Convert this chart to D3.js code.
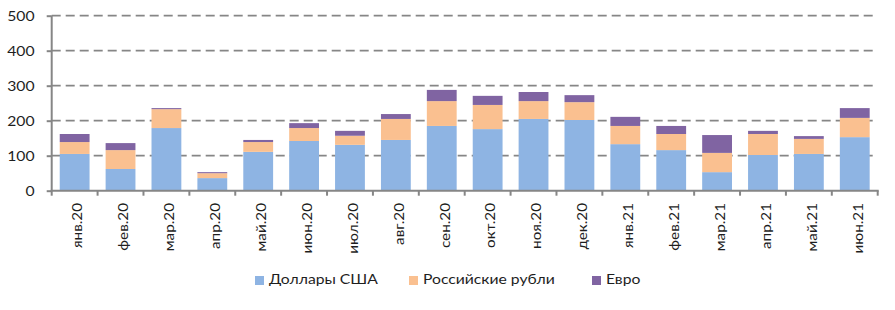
<!DOCTYPE html>
<html><head><meta charset="utf-8">
<script src="https://cdn.jsdelivr.net/npm/d3@7"></script>
<style>
body{margin:0;background:#fff;}
text{font-family:Lato,"Open Sans",sans-serif;fill:#1e1e1e;}
</style></head>
<body><svg id="chart" width="895" height="310"></svg>
<script>
const categories = ["янв.20","фев.20","мар.20","апр.20","май.20","июн.20","июл.20","авг.20","сен.20","окт.20","ноя.20","дек.20","янв.21","фев.21","мар.21","апр.21","май.21","июн.21"];
const usd = [105,62,179,36,111,142,131,145,185,176,205,202,133,116,53,102,105,153];
const rub = [34,54,54,14,28,37,26,60,71,69,51,51,52,46,55,60,43,55];
const eur = [23,20,3,3,6,14,14,14,32,26,26,20,26,23,51,9,8,28];
const seriesNames = ["Доллары США","Российские рубли","Евро"];
const colors = ["#8EB4E3","#FAC090","#8064A2"];
const yTicks = [0,100,200,300,400,500];

const svg = d3.select("#chart");
const pLeft = 51.7, pRight = 877.7, pTop = 15.7, pBottom = 190.7;
const FS = 12.5;   // horizontal text
const FSX = 13.5;  // rotated category labels

// measure text to reproduce the widened lettering of the original
const probe = svg.append("text");
function textW(s, fs){ probe.attr("font-size",fs+"px").text(s); return probe.node().getComputedTextLength(); }
const kx = 109 / textW(seriesNames[0], FS);      // horizontal widening
const kLen = 45 / textW(categories[0], FSX);     // along-baseline scale for rotated labels
probe.remove();

const data = categories.map((c,i)=>({cat:c, usd:usd[i], rub:rub[i], eur:eur[i]}));
const stack = d3.stack().keys(["usd","rub","eur"])(data);

const x = d3.scaleBand().domain(categories).range([pLeft,pRight]).paddingInner(0.35).paddingOuter(0.175);
const y = d3.scaleLinear().domain([0,500]).range([pBottom,pTop]);

// gridlines
svg.append("g").selectAll("line").data(yTicks.filter(t=>t>0)).join("line")
  .attr("x1",pLeft).attr("x2",pRight).attr("y1",d=>y(d)).attr("y2",d=>y(d))
  .attr("stroke","#868686").attr("stroke-width",1.75).attr("stroke-dasharray","9,5");

// bars
svg.append("g").selectAll("g").data(stack).join("g").attr("fill",(d,i)=>colors[i])
  .selectAll("rect").data(d=>d).join("rect")
  .attr("x",d=>x(d.data.cat)).attr("width",x.bandwidth())
  .attr("y",d=>y(d[1])).attr("height",d=>y(d[0])-y(d[1]));

// y axis
const ya = svg.append("g").attr("transform",`translate(${pLeft},0)`)
  .call(d3.axisLeft(y).tickValues(yTicks).tickSize(5).tickFormat(d3.format("d")));
ya.select(".domain").attr("stroke","#868686").attr("stroke-width",2).attr("d",`M0,${pTop}V${pBottom}`);
ya.selectAll(".tick line").attr("stroke","#868686").attr("stroke-width",2);
ya.selectAll(".tick text").attr("x",null).attr("dy",null).attr("y",null).attr("font-size",FS+"px").attr("fill","#1e1e1e")
  .style("font-family","Lato,'Open Sans',sans-serif")
  .attr("transform",`translate(${34.5-pLeft},4.4) scale(${kx},1)`);

// x axis line and ticks
const step = x.step();
const xa = svg.append("g");
xa.append("line").attr("x1",pLeft-1).attr("x2",pRight+1).attr("y1",pBottom).attr("y2",pBottom)
  .attr("stroke","#868686").attr("stroke-width",2);
xa.selectAll("line.t").data(d3.range(categories.length+1)).join("line").attr("class","t")
  .attr("x1",i=>pLeft+i*step).attr("x2",i=>pLeft+i*step).attr("y1",pBottom).attr("y2",pBottom+5)
  .attr("stroke","#868686").attr("stroke-width",2);
xa.selectAll("text").data(categories).join("text")
  .attr("transform",d=>`translate(${x(d)+x.bandwidth()/2+7.8},${pBottom+12.3}) rotate(-90) scale(${kLen},1)`)
  .attr("text-anchor","end").attr("font-size",FSX+"px").text(d=>d);

// legend
const legendX = [255,409,592];
const lg = svg.append("g");
seriesNames.forEach((n,i)=>{
  lg.append("rect").attr("x",legendX[i]).attr("y",276).attr("width",9).attr("height",9).attr("fill",colors[i]);
  lg.append("text").attr("transform",`translate(${legendX[i]+14},283.6) scale(${kx},1)`)
    .attr("font-size",FS+"px").text(n);
});
</script></body></html>
